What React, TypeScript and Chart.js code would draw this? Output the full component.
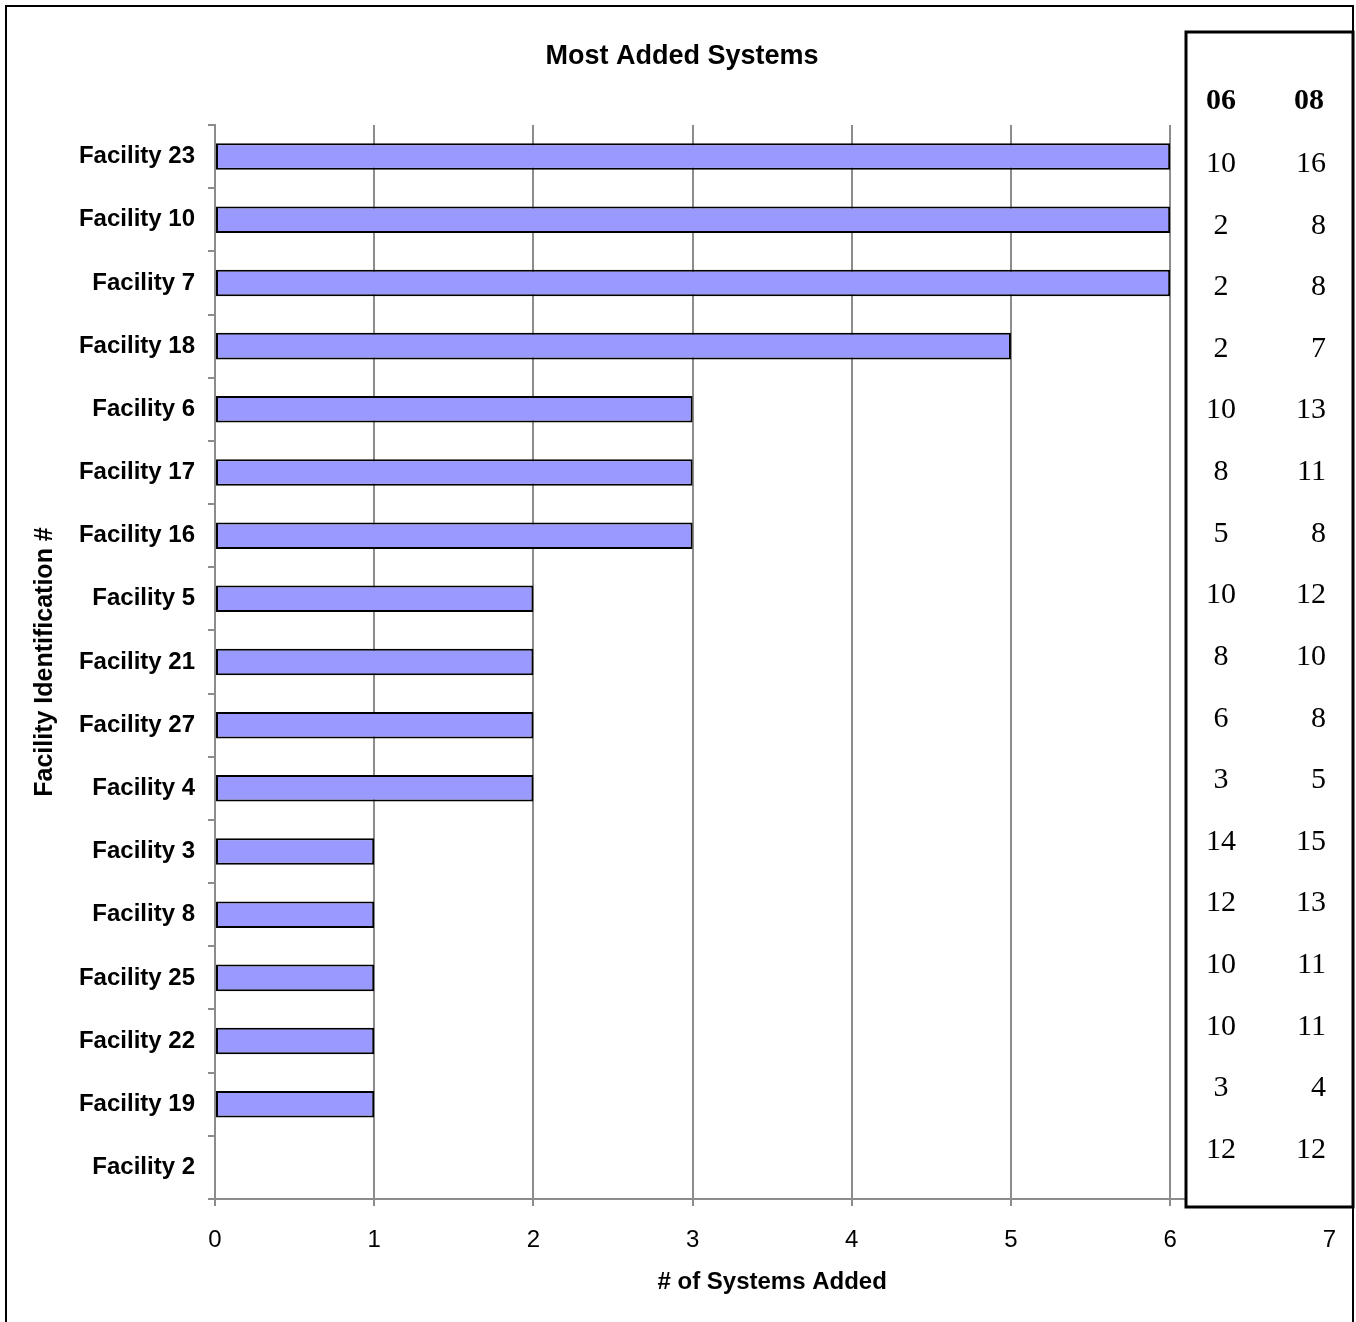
import React, { useEffect, useRef } from "react";
import { Chart, registerables } from "chart.js";

Chart.register(...registerables);

const categories = [
  "Facility 23", "Facility 10", "Facility 7", "Facility 18", "Facility 6",
  "Facility 17", "Facility 16", "Facility 5", "Facility 21", "Facility 27",
  "Facility 4", "Facility 3", "Facility 8", "Facility 25", "Facility 22",
  "Facility 19", "Facility 2",
];
const systemsAdded = [6, 6, 6, 5, 3, 3, 3, 2, 2, 2, 2, 1, 1, 1, 1, 1, 0];
const tableHeaders = ["06", "08"];
const values06 = [10, 2, 2, 2, 10, 8, 5, 10, 8, 6, 3, 14, 12, 10, 10, 3, 12];
const values08 = [16, 8, 8, 7, 13, 11, 8, 12, 10, 8, 5, 15, 13, 11, 11, 4, 12];

const chartTitle = "Most Added Systems";
const xTitle = "# of Systems Added";
const yTitle = "Facility Identification #";

const SANS = "'Liberation Sans', Arial, sans-serif";
const SERIF = "'Liberation Serif', 'Times New Roman', serif";

const decorPlugin = {
  id: "decor",
  afterDraw(chart: any) {
    const ctx = chart.ctx as CanvasRenderingContext2D;
    ctx.save();
    // outer frame
    ctx.strokeStyle = "#000";
    ctx.lineWidth = 2;
    ctx.strokeRect(6, 6, 1347, 1340);
    // title
    ctx.fillStyle = "#000";
    ctx.font = `bold 27px ${SANS}`;
    ctx.textAlign = "center";
    ctx.textBaseline = "middle";
    ctx.fillText(chartTitle, 682, 57);
    // table box
    ctx.fillStyle = "#fff";
    ctx.fillRect(1186, 32, 167, 1175);
    ctx.lineWidth = 3;
    ctx.strokeStyle = "#000";
    ctx.strokeRect(1186, 32, 167, 1175);
    ctx.fillStyle = "#000";
    ctx.textBaseline = "middle";
    ctx.font = `bold 30px ${SERIF}`;
    ctx.textAlign = "center";
    ctx.fillText(tableHeaders[0], 1221, 101);
    ctx.fillText(tableHeaders[1], 1309, 101);
    ctx.font = `30px ${SERIF}`;
    const startY = 164;
    const step = (1150 - 164) / (values06.length - 1);
    values06.forEach((v, i) => {
      const y = startY + step * i;
      ctx.textAlign = "center";
      ctx.fillText(String(v), 1221, y);
      ctx.textAlign = "right";
      ctx.fillText(String(values08[i]), 1326, y);
    });
    ctx.restore();
  },
};

export default function App() {
  const ref = useRef<HTMLCanvasElement | null>(null);
  useEffect(() => {
    document.body.style.margin = "0";
    const canvas = ref.current!;
    const chart = new Chart(canvas, {
      type: "bar",
      data: {
        labels: categories,
        datasets: [
          {
            data: systemsAdded,
            backgroundColor: "#9999FF",
            borderColor: "#000000",
            borderWidth: (c: any) => (c.raw === 0 ? 0 : 2),
            borderSkipped: false,
            categoryPercentage: 1,
            barPercentage: 0.42,
          },
        ],
      },
      options: {
        indexAxis: "y",
        animation: false,
        responsive: false,
        devicePixelRatio: 1,
        layout: { padding: { left: 0, top: 125, right: 26, bottom: 0 } },
        plugins: {
          legend: { display: false },
          tooltip: { enabled: false },
          title: { display: false },
        },
        scales: {
          x: {
            type: "linear",
            min: 0,
            max: 7,
            ticks: {
              stepSize: 1,
              color: "#000",
              padding: 20,
              font: { family: SANS, size: 24 },
            },
            grid: {
              color: "#8c8c8c",
              lineWidth: 2,
              tickLength: 7,
              drawTicks: true,
            },
            border: { color: "#8c8c8c", width: 2 },
            title: {
              display: true,
              text: xTitle,
              color: "#000",
              font: { family: SANS, size: 24, weight: "bold" },
              padding: { top: 0, bottom: 25 },
            },
            afterFit: (s: any) => {
              s.height = 123;
            },
          },
          y: {
            type: "category",
            ticks: {
              color: "#000",
              padding: 13,
              font: { family: SANS, size: 24, weight: "bold" },
              autoSkip: false,
            },
            grid: {
              offset: true,
              drawOnChartArea: false,
              drawTicks: true,
              tickLength: 7,
              color: "#8c8c8c",
              lineWidth: 2,
            },
            border: { color: "#8c8c8c", width: 2 },
            title: {
              display: true,
              text: yTitle,
              color: "#000",
              font: { family: SANS, size: 25, weight: "bold" },
              padding: { top: 30, bottom: 0 },
            },
            afterFit: (s: any) => {
              s.width = 215;
            },
          },
        },
      } as any,
      plugins: [decorPlugin],
    });
    return () => chart.destroy();
  }, []);
  return (
    <div style={{ width: 1356, height: 1322, background: "#fff" }}>
      <canvas ref={ref} width={1356} height={1322} style={{ display: "block" }} />
    </div>
  );
}
